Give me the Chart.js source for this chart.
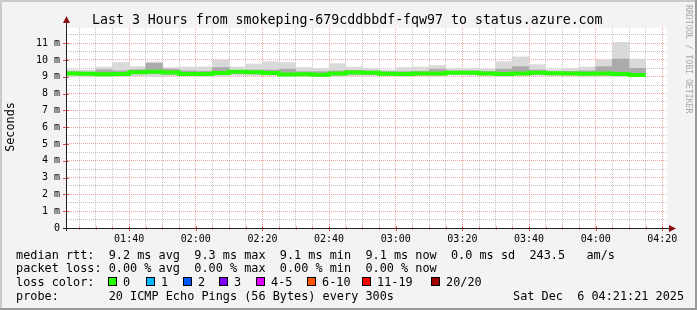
<!DOCTYPE html>
<html>
<head>
<meta charset="utf-8">
<title>smokeping status.azure.com</title>
<script src="https://cdn.jsdelivr.net/npm/chart.js@4.4.1/dist/chart.umd.min.js"></script>
<style>
  html, body { margin: 0; padding: 0; background: #f3f3f3; }
  canvas { display: block; }
</style>
</head>
<body>
<canvas id="smoke" width="697" height="310"></canvas>
<script>
// one value per 5 minute step, first step starts at 01:20 (minutes since midnight)
const startMinute = 80;
const stepMinutes = 5;
const viewStart = 81 + 21 / 60;   // 01:21:21
const viewEnd = viewStart + 180;  // 04:21:21

// ms
const smokeMax  = [9.42, 9.40, 9.58, 9.84, 9.61, 9.88, 9.55, 9.58, 9.58, 10.0, 9.58, 9.76, 9.90, 9.84, 9.55, 9.50, 9.78, 9.58,
                   9.50, 9.40, 9.55, 9.58, 9.67, 9.50, 9.50, 9.45, 9.90, 10.18, 9.72, 9.43, 9.50, 9.58, 10.0, 11.05, 10.05];
const smokeHigh = [9.30, 9.28, 9.42, 9.35, 9.42, 9.80, 9.45, 9.35, 9.32, 9.55, 9.38, 9.40, 9.40, 9.45, 9.30, 9.30, 9.35, 9.38,
                   9.35, 9.30, 9.30, 9.32, 9.45, 9.35, 9.35, 9.32, 9.45, 9.60, 9.40, 9.30, 9.32, 9.35, 9.60, 10.05, 9.50];
const medianRtt = [9.20, 9.18, 9.15, 9.16, 9.27, 9.30, 9.25, 9.17, 9.16, 9.22, 9.29, 9.27, 9.22, 9.14, 9.15, 9.12, 9.20, 9.25,
                   9.24, 9.18, 9.17, 9.20, 9.20, 9.24, 9.24, 9.20, 9.17, 9.20, 9.24, 9.21, 9.20, 9.18, 9.20, 9.17, 9.10];
const smokeLow  = [9.12, 9.10, 9.06, 9.10, 9.18, 9.18, 9.15, 9.10, 9.10, 9.12, 9.18, 9.17, 9.15, 9.08, 9.08, 9.05, 9.10, 9.15,
                   9.15, 9.10, 9.08, 9.10, 9.10, 9.17, 9.17, 9.12, 9.10, 9.12, 9.15, 9.12, 9.12, 9.10, 9.10, 9.08, 9.05];
const smokeMin  = [9.02, 9.02, 9.00, 9.03, 9.05, 9.00, 9.05, 9.05, 9.03, 9.02, 9.08, 9.07, 9.07, 9.02, 9.03, 9.00, 9.02, 9.05,
                   9.05, 9.05, 9.03, 9.05, 9.03, 9.10, 9.08, 9.05, 9.03, 9.05, 9.07, 9.05, 9.05, 9.03, 9.03, 9.00, 9.00];

const yTickLabels = ['0', '1 m', '2 m', '3 m', '4 m', '5 m', '6 m', '7 m', '8 m', '9 m', '10 m', '11 m'];
const xTickLabels = ['01:40', '02:00', '02:20', '02:40', '03:00', '03:20', '03:40', '04:00', '04:20'];
const lossLabels = ['0', '1', '2', '3', '4-5', '6-10', '11-19', '20/20'];
const lossColors = ['#26ff00', '#00b8ff', '#0059ff', '#7e00ff', '#dd00ff', '#ff5500', '#ff0000', '#a10000'];

const titleText = 'Last 3 Hours from smokeping-679cddbbdf-fqw97 to status.azure.com';
const rttLine = 'median rtt:  9.2 ms avg  9.3 ms max  9.1 ms min  9.1 ms now  0.0 ms sd  243.5   am/s';
const lossLine = 'packet loss: 0.00 % avg  0.00 % max  0.00 % min  0.00 % now';
const probeLine = 'probe:       20 ICMP Echo Pings (56 Bytes) every 300s';
const dateText = 'Sat Dec  6 04:21:21 2025';

const MONO = '"DejaVu Sans Mono", "Liberation Mono", monospace';

function band(lo, hi) {
  return lo.map((v, i) => ({ x: startMinute + stepMinutes * (i + 0.5), y: [v, hi[i]] }));
}
const medianPts = medianRtt.map((v, i) => ({ x: startMinute + stepMinutes * i, y: v }));
medianPts.push({ x: startMinute + stepMinutes * medianRtt.length, y: medianRtt[medianRtt.length - 1] });

const gridColor = (major) => (major ? 'rgba(240,90,90,0.55)' : 'rgba(150,150,150,0.55)');

// background, frame, axes and all the rrdtool style texts
const rrdLook = {
  id: 'rrdLook',
  beforeDraw(chart) {
    const c = chart.ctx, a = chart.chartArea;
    c.save();
    c.fillStyle = '#f3f3f3';
    c.fillRect(0, 0, chart.width, chart.height);
    c.fillStyle = '#ffffff';
    c.fillRect(a.left, a.top, a.right - a.left, a.bottom - a.top);
    c.restore();
  },
  afterDraw(chart) {
    const c = chart.ctx, a = chart.chartArea;
    const xs = chart.scales.x, ys = chart.scales.y;
    c.save();

    // little ticks on the axes
    c.lineWidth = 1;
    for (let m = 85; m < viewEnd; m += 5) {
      const px = Math.round(xs.getPixelForValue(m)) + 0.5;
      c.strokeStyle = m % 20 === 0 ? 'rgba(220,60,60,0.9)' : 'rgba(220,90,90,0.6)';
      c.beginPath();
      c.moveTo(px, a.bottom - 2);
      c.lineTo(px, a.bottom + (m % 20 === 0 ? 3 : 2));
      c.stroke();
    }
    for (let v = 0; v <= 11; v++) {
      const py = Math.round(ys.getPixelForValue(v)) + 0.5;
      c.strokeStyle = 'rgba(220,60,60,0.9)';
      c.beginPath();
      c.moveTo(a.left - 4, py);
      c.lineTo(a.left + 2, py);
      c.stroke();
    }

    // axes
    c.strokeStyle = '#222';
    c.beginPath();
    c.moveTo(a.left - 0.5, a.bottom + 3);
    c.lineTo(a.left - 0.5, 20);
    c.moveTo(a.left - 4, a.bottom + 0.5);
    c.lineTo(671, a.bottom + 0.5);
    c.stroke();
    c.fillStyle = '#8b1010';
    c.beginPath();
    c.moveTo(a.left - 0.5, 16);
    c.lineTo(a.left - 4, 23);
    c.lineTo(a.left + 3, 23);
    c.closePath();
    c.fill();
    c.beginPath();
    c.moveTo(676, a.bottom + 0.5);
    c.lineTo(669, a.bottom - 3);
    c.lineTo(669, a.bottom + 4);
    c.closePath();
    c.fill();

    // title
    c.fillStyle = '#000';
    c.textBaseline = 'alphabetic';
    c.textAlign = 'left';
    c.font = '13.25px ' + MONO;
    c.fillText(titleText, 92, 24);

    // y axis title
    c.save();
    c.font = '11.8px ' + MONO;
    c.translate(14, 127);
    c.rotate(-Math.PI / 2);
    c.textAlign = 'center';
    c.fillText('Seconds', 0, 0);
    c.restore();

    // rrdtool credit
    c.save();
    c.font = '8.2px ' + MONO;
    c.fillStyle = '#a8a8a8';
    c.translate(686, 5);
    c.rotate(Math.PI / 2);
    c.textAlign = 'left';
    c.fillText('RRDTOOL / TOBI OETIKER', 0, 0);
    c.restore();

    // legend block
    c.font = '11.85px ' + MONO;
    c.fillStyle = '#000';
    c.fillText(rttLine, 16, 258.5);
    c.fillText(lossLine, 16, 272.2);
    c.fillText('loss color:', 16, 285.9);
    const boxX = [108, 146, 183, 219, 256, 307, 362, 431];
    lossLabels.forEach((lab, i) => {
      c.fillStyle = lossColors[i];
      c.fillRect(boxX[i], 277, 9, 9);
      c.strokeStyle = '#000';
      c.strokeRect(boxX[i] + 0.5, 277.5, 8, 8);
      c.fillStyle = '#000';
      c.fillText(lab, boxX[i] + 15, 285.9);
    });
    c.fillText(probeLine, 16, 299.6);
    c.fillText(dateText, 513, 299.6);

    // 3d frame
    c.fillStyle = '#cbcbcb';
    c.fillRect(0, 0, chart.width, 2);
    c.fillRect(0, 0, 2, chart.height);
    c.fillStyle = '#999999';
    c.fillRect(0, chart.height - 2, chart.width, 2);
    c.fillRect(chart.width - 2, 0, 2, chart.height);
    c.restore();
  }
};

new Chart(document.getElementById('smoke'), {
  type: 'bar',
  data: {
    datasets: [
      {
        type: 'line',
        label: 'median',
        data: medianPts,
        borderColor: lossColors[0],
        borderWidth: 4,
        stepped: 'before',
        pointRadius: 0,
        fill: false,
        clip: 0,
        order: 0
      },
      {
        label: 'smoke inner',
        data: band(smokeLow, smokeHigh),
        backgroundColor: '#ababab',
        borderWidth: 0,
        grouped: false,
        barPercentage: 1,
        categoryPercentage: 1,
        clip: 0,
        order: 1
      },
      {
        label: 'smoke outer',
        data: band(smokeMin, smokeMax),
        backgroundColor: '#d9d9d9',
        borderWidth: 0,
        grouped: false,
        barPercentage: 1,
        categoryPercentage: 1,
        clip: 0,
        order: 2
      }
    ]
  },
  options: {
    responsive: false,
    animation: false,
    layout: { padding: { left: 0, top: 28, right: 30, bottom: 0 } },
    plugins: { legend: { display: false }, tooltip: { enabled: false }, title: { display: false } },
    scales: {
      x: {
        type: 'linear',
        min: viewStart,
        // a hair over 3 h so the 5 minute ticks snap to the clock, not to the left edge
        max: viewEnd + 0.05,
        offset: false,
        grid: {
          offset: false,
          drawTicks: false,
          lineWidth: 1,
          color: ctx => gridColor(ctx.tick && ctx.tick.value % 20 === 0)
        },
        border: { display: false, dash: [1, 1] },
        ticks: {
          stepSize: 5,
          includeBounds: false,
          autoSkip: false,
          maxRotation: 0,
          padding: 5,
          color: '#000',
          font: { family: MONO, size: 10 },
          callback: v => (v % 20 === 0 ? xTickLabels[(v - 100) / 20] : '')
        },
        afterFit: s => { s.height = 82; }
      },
      y: {
        min: 0,
        max: 11.9,
        grid: {
          drawTicks: false,
          lineWidth: 1,
          color: ctx => gridColor(ctx.tick && Number.isInteger(ctx.tick.value))
        },
        border: { display: false, dash: [1, 1] },
        ticks: {
          stepSize: 0.5,
          includeBounds: false,
          autoSkip: false,
          padding: 7,
          color: '#000',
          font: { family: MONO, size: 10 },
          callback: v => (Number.isInteger(v) ? yTickLabels[v] : '')
        },
        afterFit: s => { s.width = 67; }
      }
    }
  },
  plugins: [rrdLook]
});
</script>
</body>
</html>
